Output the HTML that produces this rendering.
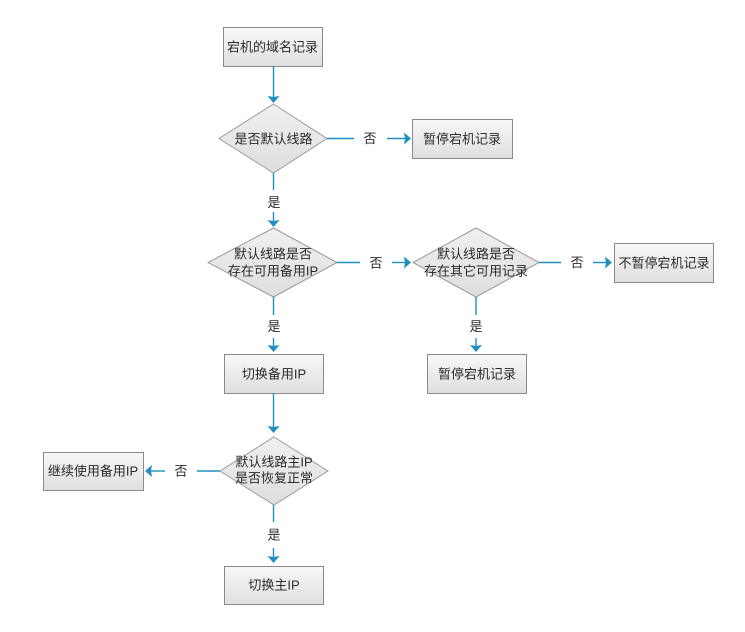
<!DOCTYPE html>
<html><head><meta charset="utf-8">
<style>
html,body{margin:0;padding:0;background:#fff;}
svg{display:block;}
text{font-family:"Liberation Sans","Noto Sans CJK SC",sans-serif;font-size:13px;fill:#2a2a2a;text-anchor:middle;dominant-baseline:central;}
</style></head>
<body>
<svg width="745" height="632" viewBox="0 0 745 632" xmlns="http://www.w3.org/2000/svg">
<defs>
<linearGradient id="gb" x1="0" y1="0" x2="0" y2="1">
<stop offset="0" stop-color="#f8f8f8"/><stop offset="1" stop-color="#dfdfdf"/>
</linearGradient>
<linearGradient id="gd" x1="0" y1="0" x2="0" y2="1">
<stop offset="0" stop-color="#f0f0f0"/><stop offset="1" stop-color="#dedede"/>
</linearGradient>
</defs>
<g fill="url(#gb)" stroke="#8a8a8a" stroke-width="1">
<rect x="223.5" y="27.5" width="99" height="39"/>
<rect x="412.5" y="119.5" width="100" height="39"/>
<rect x="614.5" y="243.5" width="99" height="39"/>
<rect x="224.5" y="354.5" width="99" height="39"/>
<rect x="427.5" y="354.5" width="99" height="39"/>
<rect x="43.5" y="452.5" width="100" height="38"/>
<rect x="224.5" y="566.5" width="99" height="38"/>
</g>
<g fill="url(#gd)" stroke="#9a9a9a" stroke-width="1">
<polygon points="273.5,104 327,138.5 273.5,173 219,138.5"/>
<polygon points="273.5,228 337,262.5 273.5,297 208,262.5"/>
<polygon points="476,228 539,262.5 476,297 413,262.5"/>
<polygon points="274,437 328,471 274,505 220,471"/>
</g>
<g stroke="#1f8fbf" stroke-width="1.4" fill="none">
<line x1="273.5" y1="66" x2="273.5" y2="97"/>
<line x1="327" y1="138.5" x2="354" y2="138.5"/>
<line x1="387" y1="138.5" x2="405" y2="138.5"/>
<line x1="273.5" y1="173" x2="273.5" y2="190"/>
<line x1="273.5" y1="212" x2="273.5" y2="221"/>
<line x1="337" y1="262.5" x2="360" y2="262.5"/>
<line x1="392" y1="262.5" x2="405" y2="262.5"/>
<line x1="539" y1="262.5" x2="561" y2="262.5"/>
<line x1="593" y1="262.5" x2="606" y2="262.5"/>
<line x1="273.5" y1="297" x2="273.5" y2="315"/>
<line x1="273.5" y1="338" x2="273.5" y2="346"/>
<line x1="476" y1="297" x2="476" y2="315"/>
<line x1="476" y1="338" x2="476" y2="346"/>
<line x1="273.5" y1="393" x2="273.5" y2="427"/>
<line x1="220" y1="471" x2="197" y2="471"/>
<line x1="165" y1="471" x2="151" y2="471"/>
<line x1="273.5" y1="505" x2="273.5" y2="522"/>
<line x1="273.5" y1="548" x2="273.5" y2="557"/>
</g>
<g fill="#1f8fbf">
<polygon points="267.5,96 273.5,103 279.5,96 273.5,97"/>
<polygon points="267.5,220 273.5,227 279.5,220 273.5,221"/>
<polygon points="267.5,345 273.5,352 279.5,345 273.5,346"/>
<polygon points="470,345 476,352 482,345 476,346"/>
<polygon points="267.5,426 273.5,433 279.5,426 273.5,427"/>
<polygon points="267.5,556 273.5,563 279.5,556 273.5,557"/>
<polygon points="404,132.5 411,138.5 404,144.5 405,138.5"/>
<polygon points="404,256.5 411,262.5 404,268.5 405,262.5"/>
<polygon points="605,256.5 612,262.5 605,268.5 606,262.5"/>
<polygon points="152,465 145,471 152,477 151,471"/>
</g>
<text x="272.5" y="47">宕机的域名记录</text>
<text x="273.5" y="139">是否默认线路</text>
<text x="370" y="138.5">否</text>
<text x="462" y="139">暂停宕机记录</text>
<text x="274" y="202.5">是</text>
<text x="273" y="254">默认线路是否</text>
<text x="273" y="271">存在可用备用IP</text>
<text x="376" y="263">否</text>
<text x="476" y="254">默认线路是否</text>
<text x="476" y="271">存在其它可用记录</text>
<text x="577" y="262.5">否</text>
<text x="664" y="263">不暂停宕机记录</text>
<text x="274" y="326.5">是</text>
<text x="476" y="326.5">是</text>
<text x="274" y="374">切换备用IP</text>
<text x="477" y="374">暂停宕机记录</text>
<text x="274" y="462">默认线路主IP</text>
<text x="274" y="478">是否恢复正常</text>
<text x="181" y="471">否</text>
<text x="93" y="471">继续使用备用IP</text>
<text x="274" y="535">是</text>
<text x="274" y="585">切换主IP</text>
</svg>
</body></html>
